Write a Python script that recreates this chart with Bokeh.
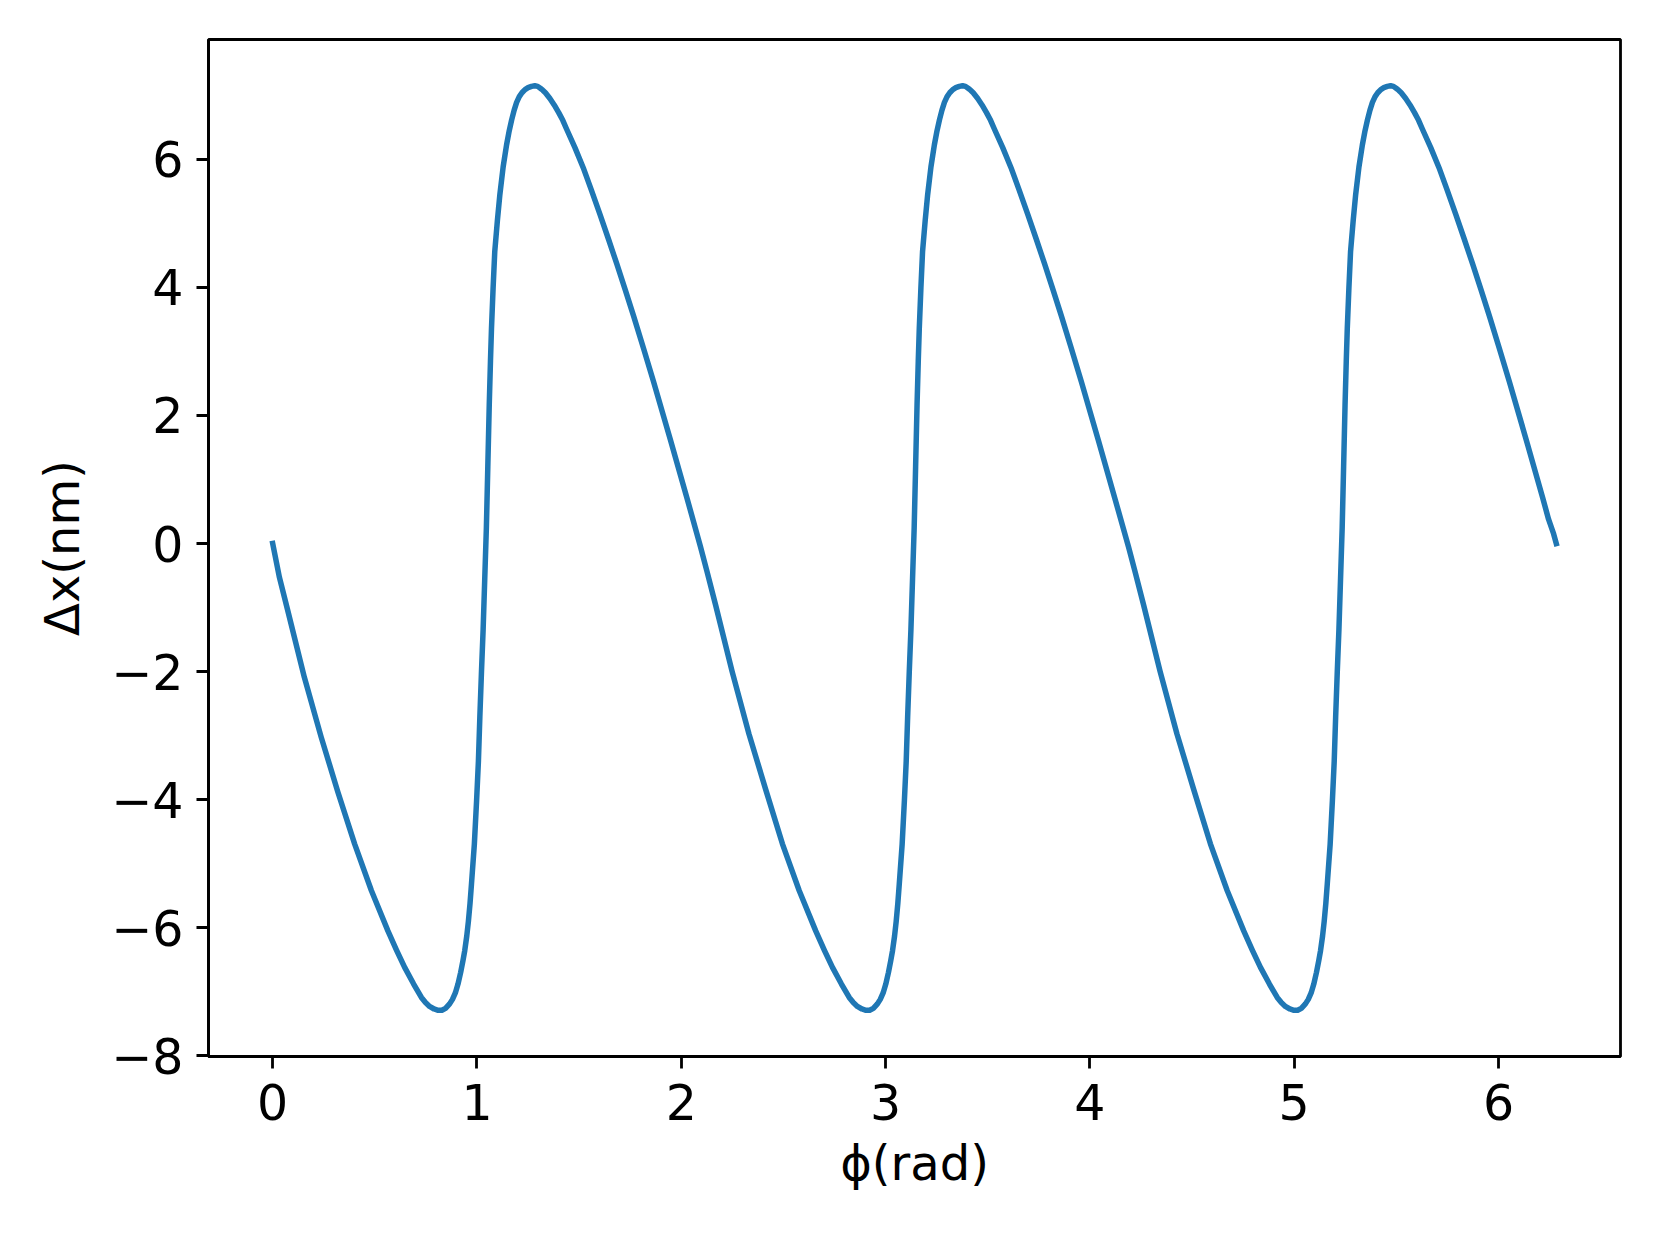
from bokeh.plotting import figure
from bokeh.models import Range1d, FixedTicker, CustomJSTickFormatter
from bokeh.embed import file_html
from bokeh.resources import INLINE

# ---- data ----
phi_cycle1 = [0.000, 0.033, 0.074, 0.155, 0.237, 0.319, 0.401, 0.483, 0.564, 0.606,
              0.646, 0.690, 0.728, 0.748, 0.768, 0.790, 0.810, 0.828, 0.846, 0.866,
              0.880, 0.894, 0.907, 0.920, 0.931, 0.940, 0.950, 0.958, 0.966, 0.973,
              0.987, 0.998, 1.007, 1.014, 1.022, 1.030, 1.038, 1.046, 1.053, 1.060,
              1.066, 1.071, 1.079, 1.087, 1.100, 1.112, 1.128, 1.145, 1.158, 1.170,
              1.182, 1.194, 1.207, 1.220, 1.235, 1.250, 1.267, 1.283, 1.297, 1.310,
              1.322, 1.335, 1.357, 1.378, 1.400, 1.420, 1.439, 1.480, 1.520, 1.560,
              1.602, 1.643, 1.684, 1.725, 1.766, 1.815, 1.864, 1.946, 2.027]
dx_cycle1 = [0.00, -0.53, -1.05, -2.09, -3.02, -3.88, -4.69, -5.42, -6.05, -6.35,
             -6.62, -6.88, -7.09, -7.17, -7.23, -7.27, -7.29, -7.29, -7.26, -7.19,
             -7.12, -7.02, -6.88, -6.70, -6.52, -6.36, -6.13, -5.90, -5.62, -5.32,
             -4.70, -4.02, -3.40, -2.71, -2.00, -1.35, -0.55, 0.25, 1.20, 2.16,
             2.85, 3.36, 4.00, 4.56, 5.05, 5.45, 5.88, 6.23, 6.45, 6.62,
             6.77, 6.89, 6.98, 7.04, 7.09, 7.12, 7.14, 7.15, 7.14, 7.11,
             7.08, 7.04, 6.95, 6.85, 6.73, 6.61, 6.47, 6.18, 5.87, 5.52,
             5.14, 4.76, 4.37, 3.97, 3.56, 3.05, 2.53, 1.63, 0.72]

phi_cycle2 = [2.094, 2.127, 2.168, 2.249, 2.331, 2.413, 2.495, 2.577, 2.658, 2.700,
              2.740, 2.784, 2.822, 2.842, 2.862, 2.884, 2.904, 2.922, 2.940, 2.960,
              2.974, 2.988, 3.001, 3.014, 3.025, 3.034, 3.044, 3.052, 3.060, 3.067,
              3.081, 3.092, 3.101, 3.108, 3.116, 3.124, 3.132, 3.140, 3.147, 3.154,
              3.160, 3.165, 3.173, 3.181, 3.194, 3.206, 3.222, 3.239, 3.252, 3.264,
              3.276, 3.288, 3.301, 3.314, 3.329, 3.344, 3.361, 3.377, 3.391, 3.404,
              3.416, 3.429, 3.451, 3.472, 3.494, 3.514, 3.533, 3.574, 3.614, 3.654,
              3.696, 3.737, 3.778, 3.819, 3.860, 3.909, 3.958, 4.040, 4.121]
dx_cycle2 = [-0.05, -0.45, -0.96, -2.00, -2.97, -3.84, -4.69, -5.42, -6.05, -6.35,
             -6.62, -6.88, -7.09, -7.17, -7.23, -7.27, -7.29, -7.29, -7.26, -7.19,
             -7.12, -7.02, -6.88, -6.70, -6.52, -6.36, -6.13, -5.90, -5.62, -5.32,
             -4.70, -4.02, -3.40, -2.71, -2.00, -1.35, -0.55, 0.25, 1.20, 2.16,
             2.85, 3.36, 4.00, 4.56, 5.05, 5.45, 5.88, 6.23, 6.45, 6.62,
             6.77, 6.89, 6.98, 7.04, 7.09, 7.12, 7.14, 7.15, 7.14, 7.11,
             7.08, 7.04, 6.95, 6.85, 6.73, 6.61, 6.47, 6.18, 5.87, 5.52,
             5.14, 4.76, 4.37, 3.97, 3.56, 3.05, 2.53, 1.63, 0.72]

phi_cycle3 = [4.189, 4.222, 4.263, 4.344, 4.426, 4.508, 4.590, 4.672, 4.753, 4.795,
              4.835, 4.879, 4.917, 4.937, 4.957, 4.979, 4.999, 5.017, 5.035, 5.055,
              5.069, 5.083, 5.096, 5.109, 5.120, 5.129, 5.139, 5.147, 5.155, 5.162,
              5.176, 5.187, 5.196, 5.203, 5.211, 5.219, 5.227, 5.235, 5.242, 5.249,
              5.255, 5.260, 5.268, 5.276, 5.289, 5.301, 5.317, 5.334, 5.347, 5.359,
              5.371, 5.383, 5.396, 5.409, 5.424, 5.439, 5.456, 5.472, 5.486, 5.499,
              5.511, 5.524, 5.546, 5.567, 5.589, 5.609, 5.628, 5.669, 5.709, 5.749,
              5.791, 5.832, 5.873, 5.914, 5.955, 6.004, 6.053, 6.135, 6.216]
dx_cycle3 = [-0.05, -0.45, -0.96, -2.00, -2.97, -3.84, -4.69, -5.42, -6.05, -6.35,
             -6.62, -6.88, -7.09, -7.17, -7.23, -7.27, -7.29, -7.29, -7.26, -7.19,
             -7.12, -7.02, -6.88, -6.70, -6.52, -6.36, -6.13, -5.90, -5.62, -5.32,
             -4.70, -4.02, -3.40, -2.71, -2.00, -1.35, -0.55, 0.25, 1.20, 2.16,
             2.85, 3.36, 4.00, 4.56, 5.05, 5.45, 5.88, 6.23, 6.45, 6.62,
             6.77, 6.89, 6.98, 7.04, 7.09, 7.12, 7.14, 7.15, 7.14, 7.11,
             7.08, 7.04, 6.95, 6.85, 6.73, 6.61, 6.47, 6.18, 5.87, 5.52,
             5.14, 4.76, 4.37, 3.97, 3.56, 3.05, 2.53, 1.63, 0.72]

# closing segment up to 2*pi
phi_end = [6.245, 6.270, 6.283]
dx_end = [0.38, 0.15, 0.00]

x_ticks = [0, 1, 2, 3, 4, 5, 6]
y_ticks = [-8, -6, -4, -2, 0, 2, 4, 6]
x_title = "ϕ(rad)"
y_title = "Δx(nm)"

for a, b in ((phi_cycle1, dx_cycle1), (phi_cycle2, dx_cycle2), (phi_cycle3, dx_cycle3)):
    assert len(a) == len(b)

phi_all = phi_cycle1 + phi_cycle2 + phi_cycle3 + phi_end
dx_all = dx_cycle1 + dx_cycle2 + dx_cycle3 + dx_end

# ---- figure ----
FONT = "DejaVu Sans"
x0, x1 = -0.3142, 6.5973
y0, y1 = -8.012, 7.872

p = figure(frame_width=1412, frame_height=1017,
           x_range=Range1d(x0, x1), y_range=Range1d(y0, y1),
           output_backend="svg", toolbar_location=None,
           min_border_left=208, min_border_right=33,
           min_border_top=39, min_border_bottom=180)
p.grid.visible = False
p.background_fill_color = "white"
p.border_fill_color = "white"
p.outline_line_color = "black"
p.outline_line_width = 2.8
p.outline_line_alpha = 1.0

p.xaxis.ticker = FixedTicker(ticks=x_ticks)
p.yaxis.ticker = FixedTicker(ticks=y_ticks)
p.yaxis.formatter = CustomJSTickFormatter(
    code="return tick < 0 ? '\u2212' + Math.abs(tick) : String(tick);")
p.xaxis.formatter = CustomJSTickFormatter(code="return String(tick);")

for ax in (p.xaxis, p.yaxis):
    ax.axis_line_color = "black"
    ax.axis_line_width = 2.8
    ax.major_tick_line_color = "black"
    ax.major_tick_line_width = 2.8
    ax.major_tick_out = 12
    ax.major_tick_in = 0
    ax.minor_tick_line_color = None
    ax.major_label_text_font = FONT
    ax.major_label_text_font_size = "49px"
    ax.major_label_text_color = "black"
    ax.axis_label_text_font = FONT
    ax.axis_label_text_font_size = "48px"
    ax.axis_label_text_font_style = "normal"
    ax.axis_label_text_color = "black"
p.xaxis.major_label_standoff = 15
p.yaxis.major_label_standoff = 13
p.xaxis.axis_label = x_title
p.yaxis.axis_label = y_title
p.xaxis.axis_label_standoff = 12
p.yaxis.axis_label_standoff = 18

p.line(phi_all, dx_all, line_color="#1f77b4", line_width=5.5,
       line_join="round", line_cap="square")

open("out.html", "w").write(file_html(p, INLINE))
